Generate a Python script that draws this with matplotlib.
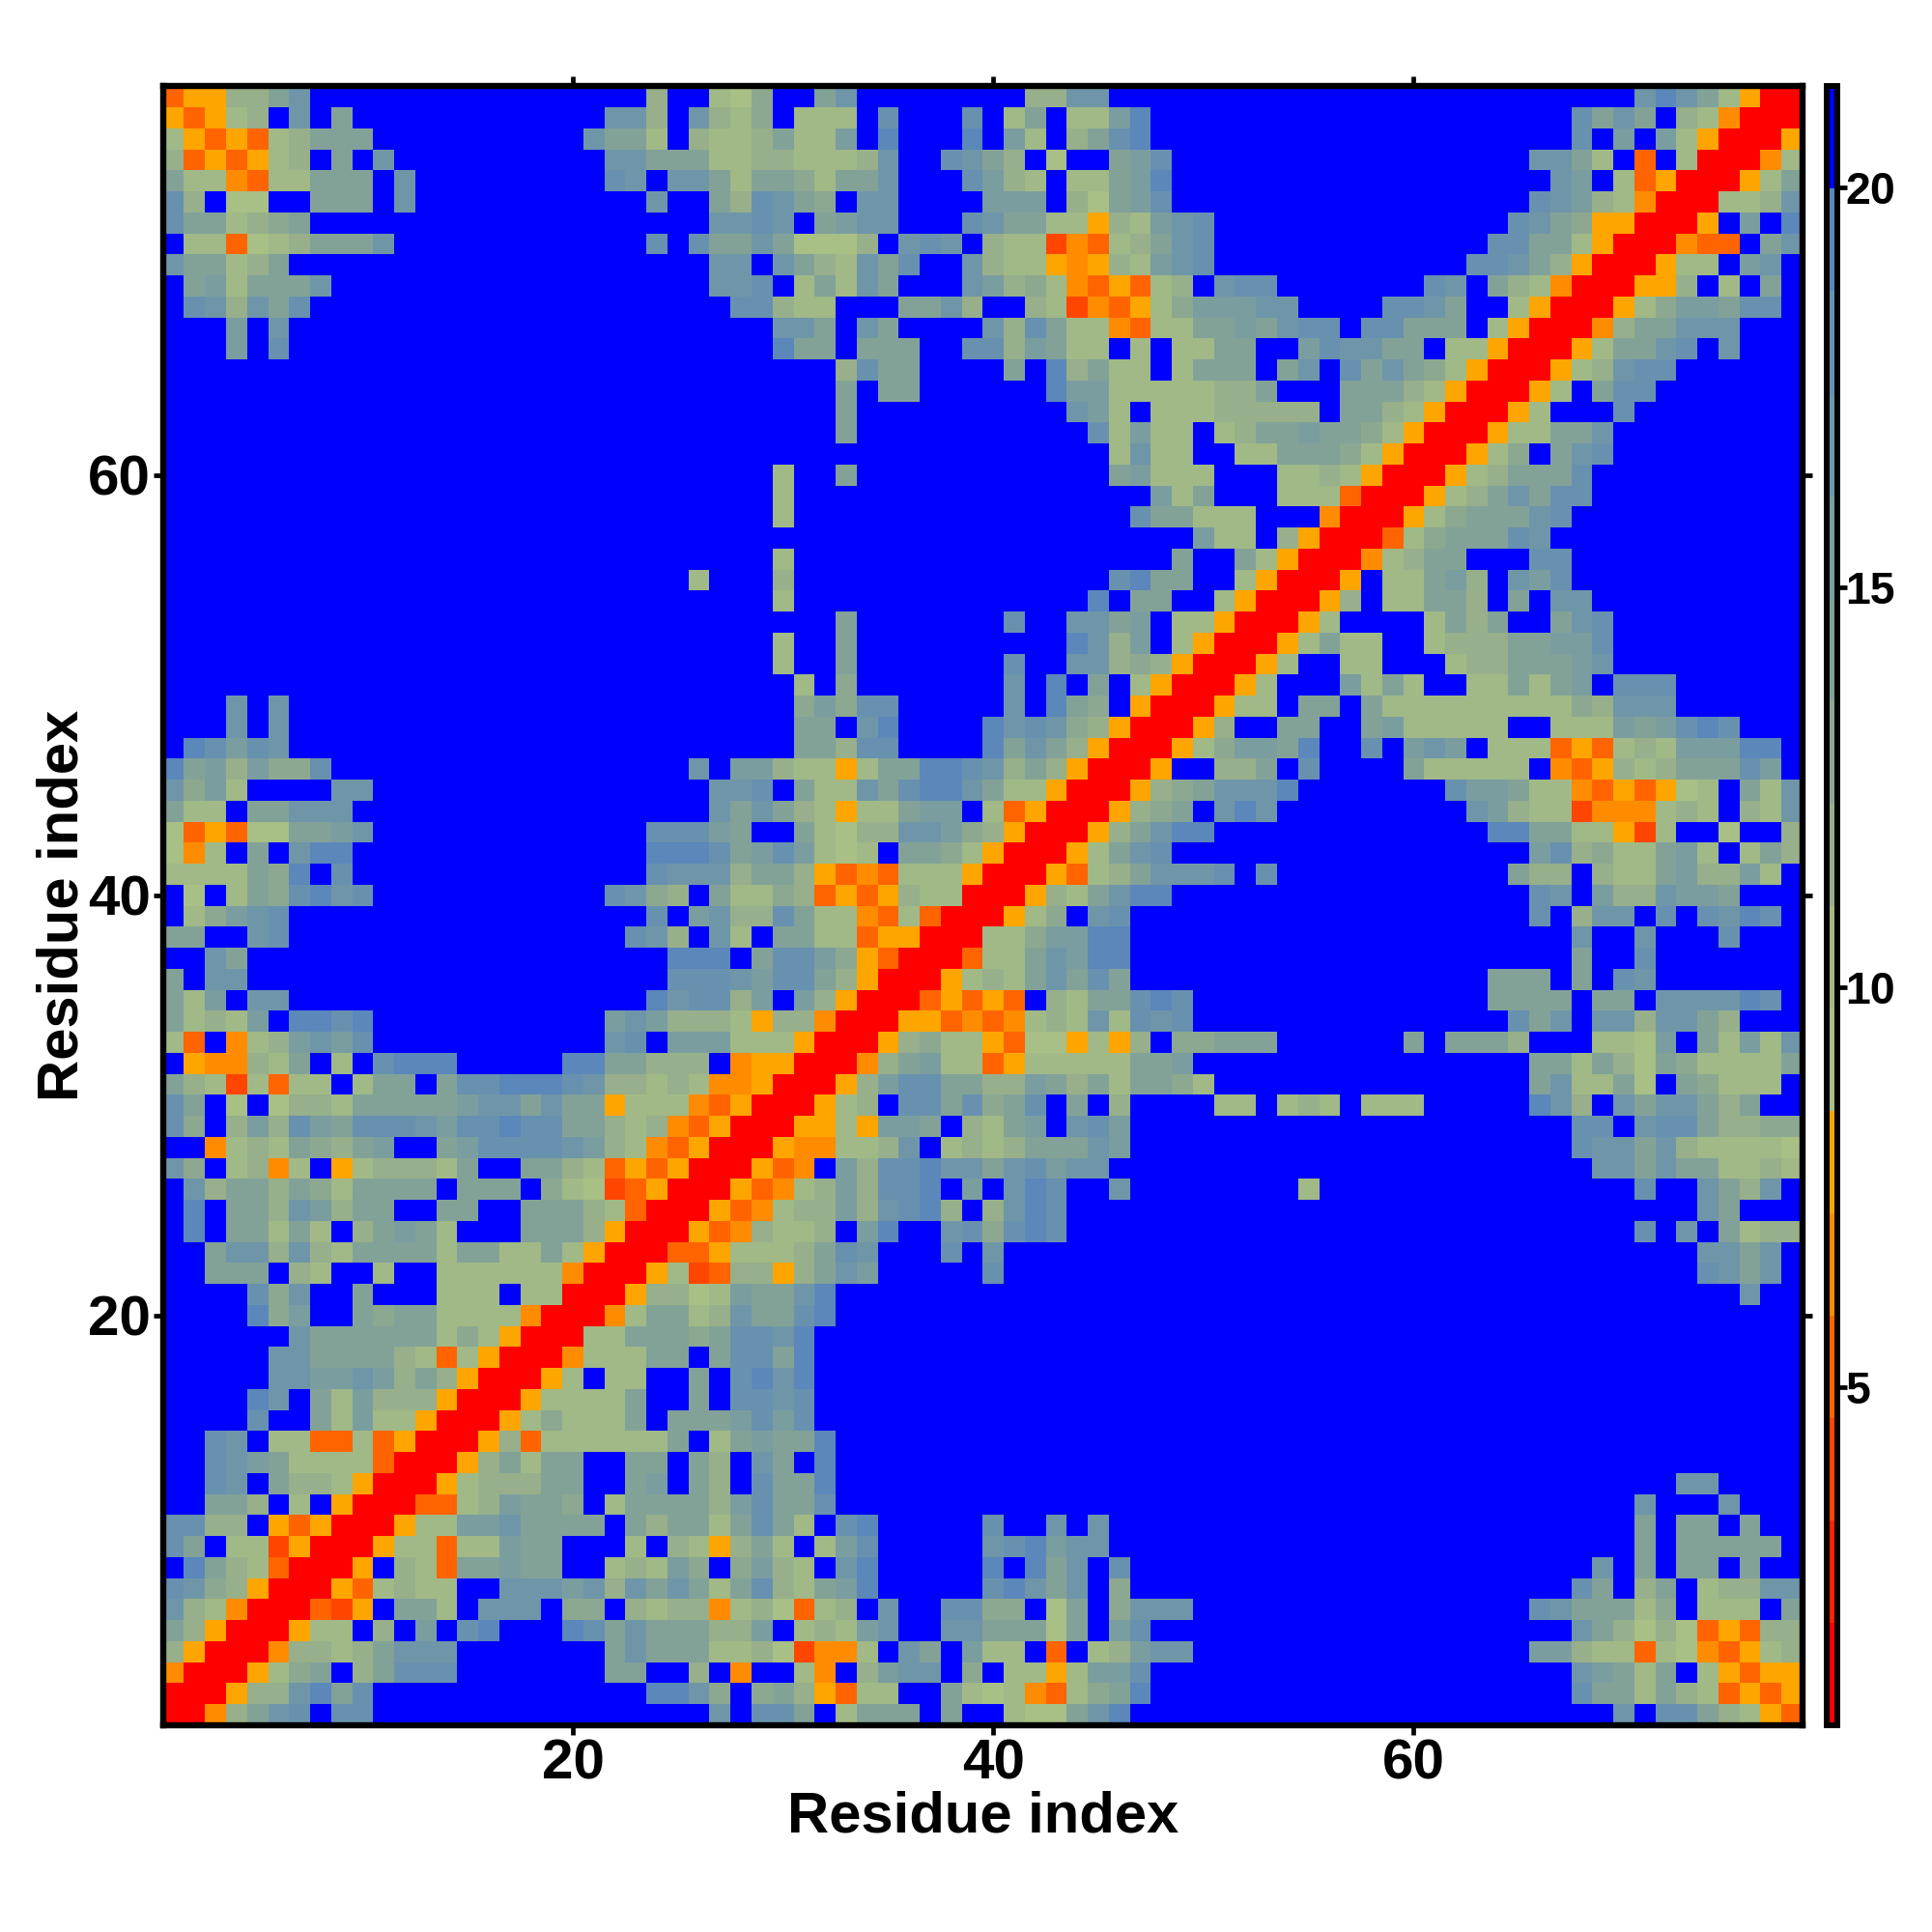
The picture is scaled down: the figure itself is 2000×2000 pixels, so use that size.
import numpy as np
import matplotlib
matplotlib.use('Agg')
import matplotlib.pyplot as plt
from matplotlib.colors import ListedColormap, BoundaryNorm

plt.rcParams['font.family'] = ['Liberation Sans', 'DejaVu Sans']
plt.rcParams['font.weight'] = 'bold'

F = 'ffffffffff'

# colour level of every cell, row 78 down to row 1, columns 1..row (matrix is symmetric)
level_rows = [
    '35588acfff' + F + 'fff8ff769f' + 'facfffffff' + 'f88ccfffff' + F + F + 'ceca7500',
    '53578fcfaf' + F + 'fcc8fc879f' + '777fdfffdf' + '7af77befff' + F + 'fffffffdac' + 'af87400',
    '7535378aaa' + F + 'caa7f8778a' + '77bfefffef' + 'b7f8adefff' + F + 'fffffffdfb' + 'fb7500',
    '8353578faf' + 'cfffffffff' + 'fccaaa7788' + '7778cffdca' + '8f6ffabdff' + F + 'fffffcca7f' + '3f700',
    'a774377aaa' + 'fcffffffff' + 'fdcfcca7aa' + '97aacfffdb' + '87f77abeff' + F + 'ffffffcbf7' + '3500',
    'd8f66ffaaa' + 'fcffffffff' + 'fffcffa8dc' + 'a9fccffffb' + 'bbf86abdff' + F + 'fffffdcb87' + '400',
    'daa789afff' + F + 'ffffffccdc' + 'fabccfffdc' + 'aa77587bcd' + F + 'ffffdca955' + '00',
    'f773678aaa' + 'cfffffffff' + 'fffdfdaaca' + '6668fcdcf8' + '7724378acd' + F + 'fffddaa750' + '0',
    'caa78affff' + F + 'ffffffccfc' + 'a87cadffc8' + '7754587bcd' + F + 'ffddca8500',
    'fab7aaacff' + F + 'ffffffccdf' + '7a7cafffcb' + '897435378f' + 'cddfffffff' + 'dcfa87400',
    'fdc8cadfff' + F + 'fffffffdd8' + '77fffaac8f' + 'f87243579b' + 'bbccffffdd' + 'caff7500',
    'fffbfcffff' + F + 'fffffffffc' + 'cafcaffffc' + '8da774377a' + 'abacddfdda' + 'aaf7500',
    'fffbfdffff' + F + 'fffffffffe' + 'aafaaaffdd' + '8ba77f7f77' + 'aaffbdccaa' + 'f77500',
    F + F + F + 'ff8daaffff' + 'afe8a77f7a' + 'aafacfdaca' + '97500',
    F + F + F + 'ffafaaffff' + 'ffebb77777' + '88afffaaa8' + '7500',
    F + F + F + 'ffafffffff' + 'fffcb7f777' + '88888faa87' + '500',
    F + F + F + 'ffafffffff' + 'ffffd7b77f' + '78aabaa975' + '00',
    F + F + F + F + 'fffff7c77f' + 'f77aaa9750' + '0',
    F + F + 'fffffffff7' + 'ffafffffff' + 'fffffab777' + 'fff7787500',
    F + F + 'fffffffff7' + F + 'fffffffb7a' + 'fff777300',
    F + F + 'fffffffff7' + F + 'ffffffdaa7' + '77fff400',
    F + F + F + F + 'fffffffffb' + '77f8500',
    F + F + 'fffffffff7' + F + 'ffffffffaf' + 'fa7500',
    F + F + 'fffff7fff8' + F + 'fffffdeaaf' + 'f7500',
    F + F + 'fffffffff7' + F + 'ffffefaaff' + '7500',
    F + F + F + 'ffafffffff' + 'dffccabf77' + '500',
    F + F + 'fffffffff7' + 'ffafffffff' + 'fffec8bf75' + '00',
    F + F + 'fffffffff7' + 'ffafffffff' + 'dffcc89850' + '0',
    F + F + F + '7f9fffffff' + 'cfefaf7500',
    'fffcfcffff' + F + F + '9b9ddfffff' + 'cfea9f500',
    'fffcfcffff' + F + F + 'aafceffffe' + 'cdc98500',
    'fedbdcffff' + F + F + 'aa8ddffffe' + 'aca8500',
    'eab8b99dff' + F + 'fffffcfbb8' + '7757aaeedc' + '8a8500',
    'c9b7ffffcc' + F + 'ffffffccdf' + 'a77cadeeca' + '77500',
    'a77faacccf' + F + 'ffffffcaca' + '87577abbf7' + '3500',
    '635366aabc' + F + 'fffdddbaff' + 'a7688ccb98' + '500',
    '647fafceef' + F + 'fffeeedabd' + 'b767faa975' + '00',
    '7777a9efdf' + F + 'fffdccc8aa' + '8534377750' + '0',
    'f6f7a9decd' + F + 'fdc98fa779' + '8353587700',
    'f79bcdffff' + F + 'fffdfbc88d' + 'a77437300',
    'aaffcdffff' + F + 'ffdc8fc7fa' + 'a7735500',
    'ffcaffffff' + F + 'ffffeeefad' + 'db95300',
    'afccffffff' + F + 'ffffdddcbd' + 'da8500',
    'a7bfccffff' + F + 'fffecdd8bf' + 'b8500',
    'a787bfeede' + F + 'fbcb888758' + '8400',
    '73f478bcbd' + F + 'fcdfbbb777' + '500',
    'f54487af7f' + 'deeefffffe' + 'eaa888f455' + '00',
    'a8727377f7' + 'aafaddeeed' + 'c887874450' + '0',
    'daf6f6887a' + 'aaaabccaca' + 'a577743500',
    'd9f8b8dbad' + 'ddcbddedda' + 'a87843500',
    'ff4787a98a' + 'bffabddddc' + 'b8743500',
    'c9f7847f57' + '8887affaa8' + '7353500',
    'fc8aa8a97a' + 'aaafaaaf97' + '623500',
    'fefaa8cb8a' + 'affaaffaaa' + '87300',
    'fefaa7a7f8' + 'aba7fffaaa' + '8500',
    'ffacc8c87a' + 'aaa7aa77a7' + '500',
    'ffaaaf87ff' + '7ff7777774' + '00',
    'ffffd9cffa' + 'fff777f770' + '0',
    'ffffe9bffa' + '9aa7777400',
    'ffffffcaaa' + 'aaa797500',
    'fffffccaaa' + 'a8737500',
    'fffffccbbc' + 'b8a8500',
    'ffffecfa7b' + '888500',
    'ffffdffa7b' + '77500',
    'ffdcf77337' + '3500',
    'ffdcba7777' + '300',
    'ffdcfa8875' + '00',
    'ffaa8f7f50' + '0',
    'dd88f53500',
    'daf772500',
    'fea87300',
    'dc98500',
    'c87400',
    'a8500',
    '8500',
    '400',
    '00',
    '0',
]

level_colors = ['#FF0000', '#FF2200', '#FF4500', '#FF6400', '#FF8C00', '#FFA500',
                '#A8BF85', '#A0B986', '#97AF8A', '#8CA890', '#82A298', '#7A9DA0',
                '#6F96A8', '#6891AF', '#5B87BA', '#0000FF']
value_min = 0.78
value_max = 21.26
bar_ticks = [5, 10, 15, 20]
axis_ticks = [20, 40, 60]
residues = np.arange(1, 79)

n = len(residues)
edges = np.linspace(value_min, value_max, len(level_colors) + 1)
centers = (edges[:-1] + edges[1:]) / 2
z = np.zeros((n, n))
for row in level_rows:
    j = len(row)
    for i, ch in enumerate(row):
        z[j - 1, i] = centers[int(ch, 16)]
        z[i, j - 1] = centers[int(ch, 16)]

W = 2000.0
fig = plt.figure(figsize=(20, 20), dpi=100)
left, right, top, bottom = 168.7, 1866.0, 89.4, 1786.0
ax = fig.add_axes([left / W, 1 - bottom / W, (right - left) / W, (bottom - top) / W])
cmap = ListedColormap(level_colors)
norm = BoundaryNorm(edges, cmap.N)
mesh = ax.pcolormesh(np.arange(0.5, n + 1), np.arange(0.5, n + 1), z, cmap=cmap, norm=norm,
                     linewidth=0, antialiased=False)
ax.set_xlim(0.5, 78.5)
ax.set_ylim(0.5, 78.5)
ax.set_xticks(axis_ticks)
ax.set_yticks(axis_ticks)
ax.tick_params(top=True, right=True, direction='out', length=7, width=3.4, color='black',
               labelsize=42, pad=2.5)
for s in ax.spines.values():
    s.set_linewidth(4.6)
ax.set_xlabel('Residue index', fontsize=43, fontweight='bold')
ax.set_ylabel('Residue index', fontsize=43, fontweight='bold')
ax.xaxis.set_label_coords(0.5, (bottom - 1881) / (bottom - top), transform=ax.transAxes)
ax.xaxis.label.set_verticalalignment('center')
ax.yaxis.set_label_coords((65 - left) / (right - left), 0.5, transform=ax.transAxes)
ax.yaxis.label.set_verticalalignment('center')

cax = fig.add_axes([1890.5 / W, 1 - bottom / W, 11 / W, (bottom - top) / W])
cb = fig.colorbar(mesh, cax=cax, ticks=bar_ticks, spacing='proportional', drawedges=False)
cb.outline.set_linewidth(4.3)
cb.ax.minorticks_off()
cb.ax.tick_params(direction='out', length=7, width=3.4, labelsize=33.5, pad=-0.6)

fig.savefig('out.png', dpi=100)
